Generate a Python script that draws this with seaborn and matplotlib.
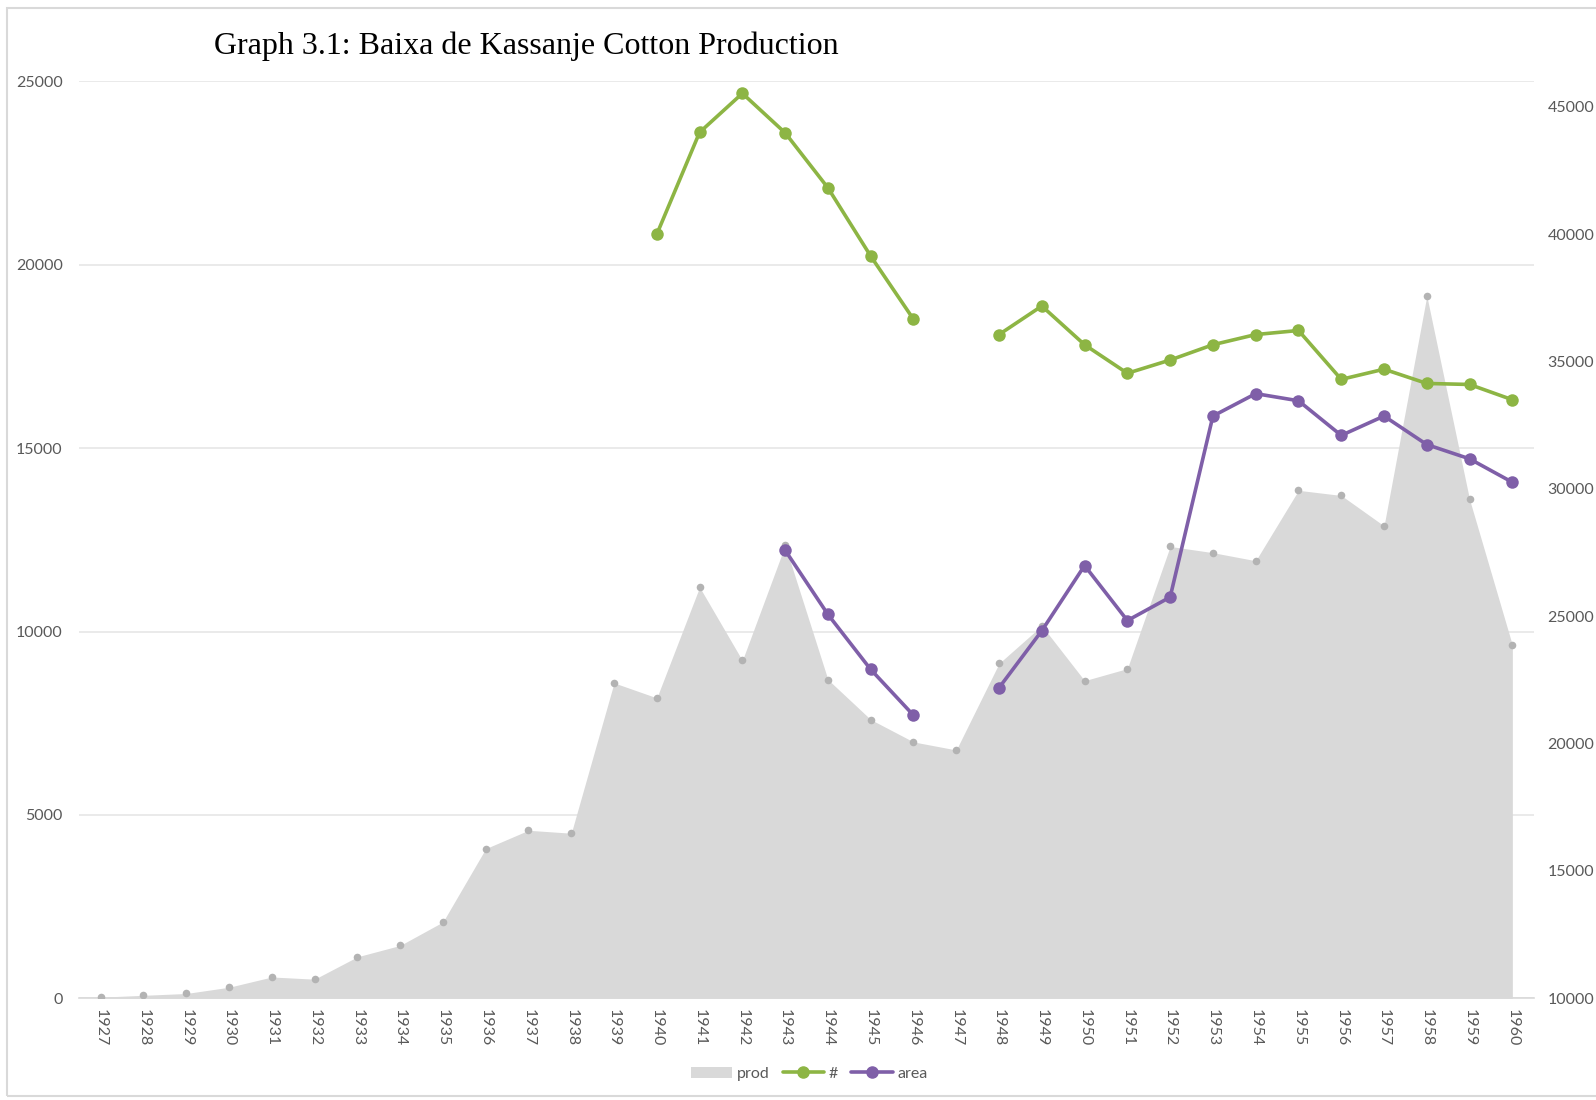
import numpy as np
import pandas as pd
import matplotlib
matplotlib.use("Agg")
import matplotlib.pyplot as plt
import seaborn as sns
from matplotlib.patches import Patch, Rectangle
from matplotlib.lines import Line2D

years = list(range(1927, 1961))
prod = [30, 80, 130, 300, 580, 520, 1130, 1440, 2080, 4080, 4580, 4500, 8600, 8190,
        11210, 9210, 12350, 8690, 7600, 6990, 6770, 9130, 10160, 8660, 8990, 12320,
        12150, 11930, 13850, 13710, 12880, 19150, 13600, 9630]
growers_years = [1940, 1941, 1942, 1943, 1944, 1945, 1946,
                 1948, 1949, 1950, 1951, 1952, 1953, 1954, 1955, 1956, 1957, 1958, 1959, 1960]
growers = [40000, 44000, 45530, 43980, 41820, 39140, 36660,
           36060, 37180, 35660, 34540, 35060, 35660, 36060, 36220, 34300, 34700, 34140, 34100, 33500]
area_years = [1943, 1944, 1945, 1946,
              1948, 1949, 1950, 1951, 1952, 1953, 1954, 1955, 1956, 1957, 1958, 1959, 1960]
area = [27590, 25070, 22910, 21110,
        22190, 24430, 26990, 24830, 25750, 32860, 33740, 33460, 32100, 32860, 31740, 31180, 30260]

left_ticks = [0, 5000, 10000, 15000, 20000, 25000]
right_ticks = [10000, 15000, 20000, 25000, 30000, 35000, 40000, 45000]

GREEN = "#8db544"
PURPLE = "#7f5fa8"
AREA = "#d9d9d9"
TXT = "#595959"

sns.set_theme(style="white")
plt.rcParams['font.family'] = ['Lato', 'DejaVu Sans']

df_prod = pd.DataFrame({"x": [years.index(y) for y in years], "v": prod})
df_g = pd.DataFrame({"x": [years.index(y) for y in growers_years], "v": growers,
                     "seg": [0 if y < 1947 else 1 for y in growers_years]})
df_a = pd.DataFrame({"x": [years.index(y) for y in area_years], "v": area,
                     "seg": [0 if y < 1947 else 1 for y in area_years]})

fig = plt.figure(figsize=(15.96, 11), dpi=100)
ax = fig.add_axes([0.0497, 0.0925, 0.9113, 0.8335])
ax.fill_between(df_prod["x"], 0, df_prod["v"], color=AREA, lw=0, zorder=2)
sns.scatterplot(data=df_prod, x="x", y="v", ax=ax, color="#b3b3b3", s=30, linewidth=0, zorder=3, legend=False)

ax.set_xlim(-0.5, len(years) - 0.5)
ax.set_ylim(0, 25000)
ax.set_yticks(left_ticks)
ax.set_yticklabels([str(t) for t in left_ticks], color=TXT, fontsize=11.5)
ax.set_xticks(range(len(years)))
ax.set_xticklabels([str(y) for y in years], rotation=-90, color=TXT, fontsize=11.5)
ax.set_xticks(np.arange(-0.5, len(years), 1.0), minor=True)
ax.tick_params(axis='x', which='major', length=0, pad=8)
ax.tick_params(axis='x', which='minor', length=6, color="#d9d9d9", width=1, direction='out')
ax.tick_params(axis='y', length=0, pad=12)
ax.grid(axis='y', color="#e6e6e6", lw=1.2)
ax.grid(axis='x', visible=False)
ax.set_axisbelow(True)
for s in ["top", "left", "right"]:
    ax.spines[s].set_visible(False)
ax.spines["bottom"].set_color("#d9d9d9")
ax.spines["bottom"].set_linewidth(1.2)
ax.set_xlabel("")
ax.set_ylabel("")

ax2 = ax.twinx()
sns.lineplot(data=df_g, x="x", y="v", units="seg", estimator=None, ax=ax2, color=GREEN,
             lw=2.6, marker="o", markersize=9, markeredgewidth=0, legend=False)
sns.lineplot(data=df_a, x="x", y="v", units="seg", estimator=None, ax=ax2, color=PURPLE,
             lw=2.6, marker="o", markersize=9, markeredgewidth=0, legend=False)
ax2.set_ylim(10000, 46000)
ax2.set_yticks(right_ticks)
ax2.set_yticklabels([str(t) for t in right_ticks], color=TXT, fontsize=11.5)
ax2.tick_params(axis='y', length=0, pad=10)
ax2.grid(False)
for s in ["top", "left", "right", "bottom"]:
    ax2.spines[s].set_visible(False)
ax2.set_xlabel("")
ax2.set_ylabel("")
ax2.set_xlim(-0.5, len(years) - 0.5)

fig.text(0.134, 0.958, "Graph 3.1: Baixa de Kassanje Cotton Production",
         family=["Liberation Serif", "DejaVu Serif"], fontsize=23, ha="left", va="center", color="black")

handles = [Patch(facecolor=AREA, edgecolor="none"),
           Line2D([], [], color=GREEN, lw=2.6, marker="o", markersize=8),
           Line2D([], [], color=PURPLE, lw=2.6, marker="o", markersize=8)]
leg = fig.legend(handles, ["prod", "#", "area"], loc="center", bbox_to_anchor=(0.507, 0.024),
                 ncol=3, frameon=False, fontsize=11.5, handlelength=2.6, handletextpad=0.3,
                 columnspacing=0.8)
for t in leg.get_texts():
    t.set_color(TXT)

fig.patches.append(Rectangle((0.0045, 0.004), 1.2, 0.9885, transform=fig.transFigure,
                             fill=False, edgecolor="#d9d9d9", lw=1.5))

fig.savefig("out.png", dpi=100)
